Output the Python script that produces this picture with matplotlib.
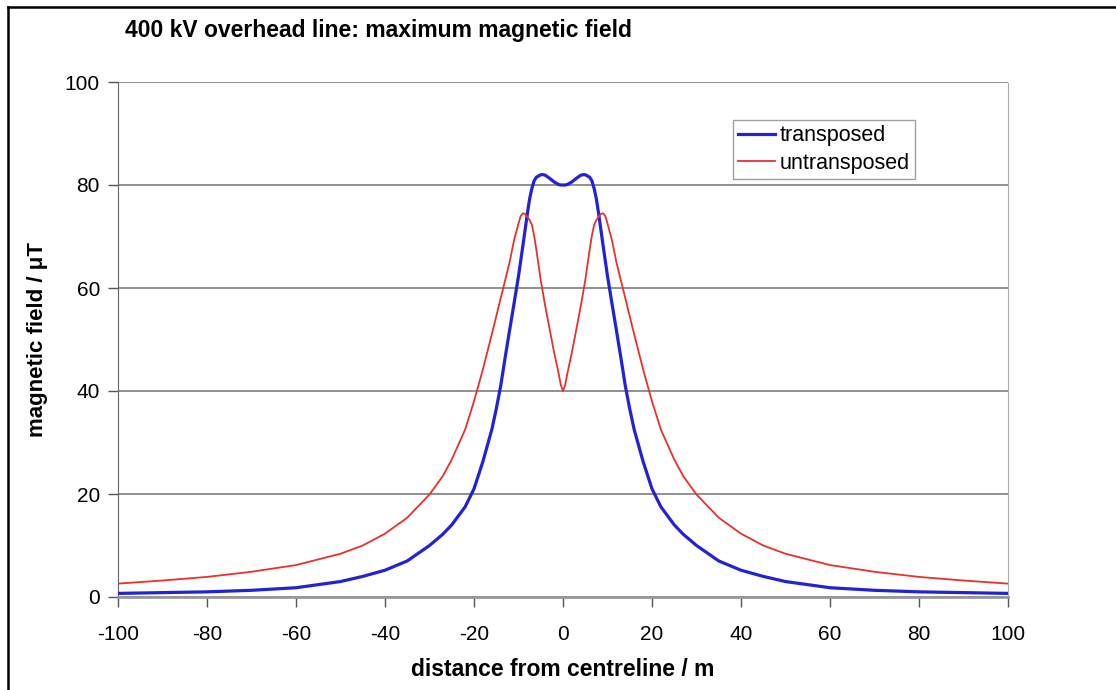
"""400 kV overhead line: maximum magnetic field"""

import matplotlib
matplotlib.use("Agg")
import matplotlib.pyplot as plt
from matplotlib.lines import Line2D

plt.rcParams['font.family'] = ['Liberation Sans', 'DejaVu Sans']
plt.rcParams['axes.unicode_minus'] = False

# distance from centreline [m]
distance = [-100, -90, -80, -70, -60, -50, -45, -40, -35, -30, -27, -25,
            -22, -20, -18, -16, -15, -14, -13, -12, -11, -10, -9.5, -9,
            -8.5, -8, -7.5, -7, -6.5, -6, -5, -4.5, -4, -3, -2, -1, -0.5, 0,
            0.5, 1, 2, 3, 4, 4.5, 5, 6, 6.5, 7, 7.5, 8, 8.5, 9, 9.5, 10, 11,
            12, 13, 14, 15, 16, 18, 20, 22, 25, 27, 30, 35, 40, 45, 50, 60,
            70, 80, 90, 100]

# magnetic field [uT]
transposed = [0.7, 0.85, 1.0, 1.3, 1.8, 3.0, 4.0, 5.2, 7.0, 10.0, 12.2, 14.0,
              17.5, 21.0, 26.3, 32.5, 36.5, 41.0, 46.5, 51.8, 57.0, 62.3,
              65.3, 68.3, 71.4, 74.5, 77.3, 79.3, 80.8, 81.5, 82.0, 82.0,
              81.9, 81.3, 80.6, 80.1, 80.0, 80.0,
              80.0, 80.1, 80.6, 81.3, 81.9, 82.0, 82.0, 81.5, 80.8, 79.3,
              77.3, 74.5, 71.4, 68.3, 65.3, 62.3, 57.0, 51.8, 46.5, 41.0,
              36.5, 32.5, 26.3, 21.0, 17.5, 14.0, 12.2, 10.0, 7.0, 5.2, 4.0,
              3.0, 1.8, 1.3, 1.0, 0.85, 0.7]
untransposed = [2.6, 3.2, 3.9, 4.9, 6.2, 8.4, 10.0, 12.3, 15.4, 19.9, 23.5,
                26.7, 32.5, 38.0, 44.2, 51.0, 54.5, 58.0, 61.5, 65.0, 69.3,
                72.5, 74.0, 74.5, 74.4, 73.8, 73.2, 72.3, 70.2, 67.5, 61.5,
                59.0, 56.5, 52.0, 47.5, 43.5, 41.2, 40.0,
                41.2, 43.5, 47.5, 52.0, 56.5, 59.0, 61.5, 67.5, 70.2, 72.3,
                73.2, 73.8, 74.4, 74.5, 74.0, 72.5, 69.3, 65.0, 61.5, 58.0,
                54.5, 51.0, 44.2, 38.0, 32.5, 26.7, 23.5, 19.9, 15.4, 12.3,
                10.0, 8.4, 6.2, 4.9, 3.9, 3.2, 2.6]

x_ticks = [-100, -80, -60, -40, -20, 0, 20, 40, 60, 80, 100]
y_ticks = [0, 20, 40, 60, 80, 100]

fig = plt.figure(figsize=(11.16, 6.9), dpi=100)
ax = fig.add_axes([118 / 1116, 1 - 597 / 690, 890 / 1116, 515 / 690])

ax.plot(distance, transposed, color='#2222d6', lw=2.3, label='transposed',
        zorder=3)
ax.plot(distance, untransposed, color='#e8302c', lw=1.3, label='untransposed',
        zorder=3)

ax.set_xlim(-100, 100)
ax.set_ylim(0, 100)
ax.set_xticks(x_ticks)
ax.set_yticks(y_ticks)
ax.tick_params(direction='out', length=7, width=1, color='#555555',
               labelsize=15, pad=6)
ax.tick_params(axis='x', pad=13)
ax.yaxis.grid(True, color='#888888', lw=1.3)
ax.set_axisbelow(True)

ax.spines['top'].set_visible(False)
ax.spines['left'].set_color('#666666')
ax.spines['bottom'].set_color('#999999')
ax.spines['bottom'].set_linewidth(2)
ax.spines['right'].set_color('#aaaaaa')
ax.spines['right'].set_linestyle((0, (1, 1)))

ax.set_xlabel('distance from centreline / m', fontsize=16.5, fontweight='bold',
              labelpad=10)
ax.set_ylabel('magnetic field / μT', fontsize=16, fontweight='bold',
              labelpad=12)
fig.text(125 / 1116, 1 - 30 / 690, '400 kV overhead line: maximum magnetic field',
         fontsize=16.5, fontweight='bold', va='center', ha='left')

leg = ax.legend(loc='upper left', bbox_to_anchor=((733 - 118) / 890, (597 - 120) / 515),
                fontsize=15.5, frameon=True, fancybox=False, handlelength=1.7,
                handletextpad=0.2, borderpad=0.25, labelspacing=0.3,
                borderaxespad=0)
leg.get_frame().set_edgecolor('#888888')
leg.get_frame().set_linewidth(1)

# outer frame, only left and top edges visible
fig.add_artist(Line2D([8 / 1116, 8 / 1116], [0, 1 - 7 / 690],
                      color='black', lw=1.8))
fig.add_artist(Line2D([8 / 1116, 1], [1 - 7 / 690, 1 - 7 / 690],
                      color='black', lw=1.8))

fig.savefig('out.png', dpi=100)
